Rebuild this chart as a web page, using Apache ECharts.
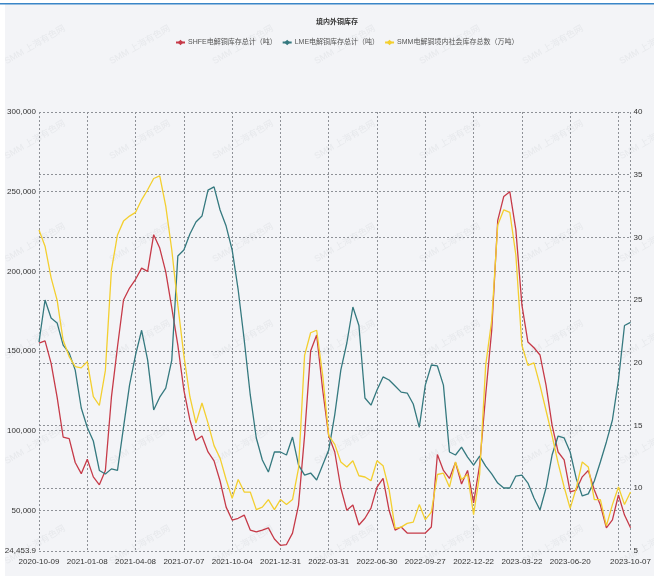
<!DOCTYPE html>
<html lang="zh-CN">
<head>
<meta charset="UTF-8">
<title>境内外铜库存</title>
<script src="https://cdn.jsdelivr.net/npm/echarts@6/dist/echarts.min.js"></script>
<style>
  html, body { margin: 0; padding: 0; background: #fff; }
  #main { width: 654px; height: 576px; }
</style>
</head>
<body>
<div id="main"></div>
<script type="text/javascript">
// 日期（只显示部分标签）
var dates = [
  '2020-10-09','2020-10-21','2020-11-02','2020-11-12','2020-11-24','2020-12-04','2020-12-16','2020-12-28',
  '2021-01-08','2021-01-20','2021-02-01','2021-02-19','2021-03-02','2021-03-12','2021-03-22','2021-03-30',
  '2021-04-08','2021-04-20','2021-04-30','2021-05-13','2021-05-25','2021-06-04','2021-06-16','2021-06-25',
  '2021-07-07','2021-07-19','2021-07-29','2021-08-10','2021-08-20','2021-09-01','2021-09-13','2021-09-24',
  '2021-10-04','2021-10-15','2021-10-27','2021-11-08','2021-11-18','2021-11-30','2021-12-10','2021-12-21',
  '2021-12-31','2022-01-12','2022-01-24','2022-02-09','2022-02-21','2022-03-01','2022-03-11','2022-03-21',
  '2022-03-31','2022-04-13','2022-04-25','2022-05-09','2022-05-19','2022-05-31','2022-06-10','2022-06-21',
  '2022-06-30','2022-07-12','2022-07-22','2022-08-03','2022-08-15','2022-08-25','2022-09-06','2022-09-16',
  '2022-09-27','2022-10-13','2022-10-25','2022-11-04','2022-11-14','2022-11-24','2022-12-02','2022-12-12',
  '2022-12-22','2023-01-04','2023-01-16','2023-02-01','2023-02-13','2023-02-23','2023-03-03','2023-03-13',
  '2023-03-22','2023-04-03','2023-04-13','2023-04-25','2023-05-09','2023-05-19','2023-05-31','2023-06-09',
  '2023-06-20','2023-06-30','2023-07-12','2023-07-24','2023-08-03','2023-08-15','2023-08-25','2023-09-06',
  '2023-09-15','2023-09-26','2023-10-07'
];
var labelDates = ['2020-10-09','2021-01-08','2021-04-08','2021-07-07','2021-10-04','2021-12-31',
  '2022-03-31','2022-06-30','2022-09-27','2022-12-22','2023-03-22','2023-06-20','2023-10-07'];

// SHFE电解铜库存总计（吨）
var shfe = [
  155000,156300,142400,121000,96000,95000,80000,73000,
  82000,71000,66000,75000,121000,152500,182000,189500,
  195000,202000,200000,223000,214600,199600,177000,153700,
  125500,106700,94000,96600,86600,81000,68400,52000,
  43900,45000,47000,37600,36400,37600,39000,32000,
  28000,28500,35700,53300,97000,150000,160000,125500,
  96600,86600,64000,50000,53300,40800,45000,51400,
  64600,70000,50000,37600,39500,35700,35700,35700,
  35700,39500,85000,75000,70000,80000,66500,75000,
  54600,78400,122400,163000,232000,247000,250000,226000,
  179000,155600,152000,147500,128600,103500,86600,81600,
  61500,62700,71000,75000,62700,53300,39000,44000,
  59600,47000,39000
];
// LME电解铜库存总计（吨）
var lme = [
  155600,182000,170700,167600,153700,148700,138000,114200,
  102000,93500,75000,72800,76000,75000,102000,128600,
  147500,163000,144300,113000,121000,126700,144300,209600,
  213400,223400,231000,234700,251000,253000,238500,228400,
  213400,188300,156900,122400,95400,81600,74000,86600,
  86600,84700,96000,78400,72100,73400,69000,78400,
  87800,110000,138000,155000,177600,166000,120500,116000,
  125500,133700,131800,128000,124200,123600,116700,102000,
  128600,141200,140600,128600,86600,84700,89700,83400,
  78400,84000,77700,72800,67100,64000,64000,71500,
  72100,67100,57700,50200,64000,84700,96600,95400,
  86600,70000,59000,60300,68400,80300,92900,106700,
  131800,166000,168000
];
// SMM电解铜境内社会库存总数（万吨）
var smm = [
  30.6,29.3,26.8,25.0,21.8,20.5,19.7,19.6,
  20.1,17.3,16.6,19.4,27.4,30.2,31.3,31.7,
  32.0,33.0,33.8,34.7,34.9,32.5,29.0,24.6,
  20.6,17.3,15.2,16.8,15.2,13.4,12.4,10.7,
  9.2,10.7,9.7,9.7,8.3,8.5,9.1,8.3,
  9.1,8.7,9.1,11.6,20.6,22.4,22.6,19.0,
  14.2,13.5,12.1,11.7,12.2,11.0,10.9,10.6,
  12.2,11.8,9.9,6.8,6.9,7.2,7.3,8.7,
  7.5,8.1,11.1,11.2,10.1,12.1,10.7,11.1,
  7.9,11.1,19.8,23.4,31.0,32.2,32.0,28.6,
  21.4,19.8,20.0,18.2,16.2,14.2,12.0,10.1,
  8.4,10.0,12.1,11.7,9.1,9.1,7.0,8.7,
  10.1,8.7,9.7
];
var seriesNames = ['SHFE电解铜库存总计（吨）', 'LME电解铜库存总计（吨）', 'SMM电解铜境内社会库存总数（万吨）'];
var colors = ['#c63a48', '#35797f', '#f3cf2f'];

var font = 'Liberation Sans, Noto Sans CJK SC, sans-serif';
var gridLine = { show: true, lineStyle: { color: '#8e9197', width: 1, type: [2, 2] } };

// 水印
var marks = [];
var markX = [35, 140, 243, 345, 450, 553, 650];
var markY = [45, 140, 243, 340, 445, 545];
markX.forEach(function (x) {
  markY.forEach(function (y) {
    marks.push({
      type: 'text', x: x, y: y, rotation: Math.PI / 6, silent: true, z: -1,
      style: { text: 'SMM 上海有色网', fontSize: 9, fill: 'rgba(150,155,165,0.13)', align: 'center', verticalAlign: 'middle', fontFamily: font }
    });
  });
});

var myChart = echarts.init(document.getElementById('main'));

var option = {
  backgroundColor: '#f3f4f7',
  color: colors,
  animation: false,
  title: {
    text: '境内外铜库存',
    left: 316,
    top: 19,
    padding: 0,
    textStyle: { fontSize: 7, fontWeight: 'bold', color: '#333', fontFamily: font }
  },
  legend: {
    data: seriesNames,
    left: 175,
    top: 39,
    padding: 0,
    itemWidth: 9,
    itemHeight: 7,
    itemGap: 5,
    textStyle: { fontSize: 7, color: '#555', fontFamily: font, padding: [0, 0, 0, -2] }
  },
  graphic: marks.concat([
    { type: 'rect', shape: { x: 0, y: 0, width: 654, height: 3 }, style: { fill: '#fff' }, silent: true },
    { type: 'rect', shape: { x: 0, y: 0, width: 5, height: 576 }, style: { fill: '#fff' }, silent: true },
    { type: 'rect', shape: { x: 0, y: 3, width: 654, height: 1.6 }, style: { fill: '#3a86c8' }, silent: true }
  ]),
  grid: { left: 39, right: 18, top: 112, bottom: 25, containLabel: false },
  xAxis: {
    type: 'category',
    data: dates,
    boundaryGap: false,
    axisLine: { show: false },
    axisTick: { show: false },
    axisLabel: {
      interval: function (i, v) { return labelDates.indexOf(v) >= 0; },
      fontSize: 8,
      color: '#333',
      margin: 7,
      fontFamily: font
    },
    splitLine: {
      show: true,
      interval: function (i) { return i % 8 === 0 || i === dates.length - 1; },
      lineStyle: gridLine.lineStyle
    }
  },
  yAxis: [
    {
      type: 'value',
      min: 24453.9,
      max: 300000,
      axisLine: { show: false },
      axisTick: { show: false },
      axisLabel: { fontSize: 8, color: '#333', margin: 3, fontFamily: font },
      splitLine: gridLine
    },
    {
      type: 'value',
      min: 5,
      max: 40,
      interval: 5,
      position: 'right',
      axisLine: { show: false },
      axisTick: { show: false },
      axisLabel: { fontSize: 8, color: '#333', margin: 3, fontFamily: font },
      splitLine: gridLine
    }
  ],
  series: [
    { name: seriesNames[0], type: 'line', yAxisIndex: 0, data: shfe, symbol: 'diamond', showSymbol: false, lineStyle: { width: 1.3 } },
    { name: seriesNames[1], type: 'line', yAxisIndex: 0, data: lme, symbol: 'diamond', showSymbol: false, lineStyle: { width: 1.3 } },
    { name: seriesNames[2], type: 'line', yAxisIndex: 1, data: smm, symbol: 'diamond', showSymbol: false, lineStyle: { width: 1.3 } }
  ]
};

myChart.setOption(option);
</script>
</body>
</html>
